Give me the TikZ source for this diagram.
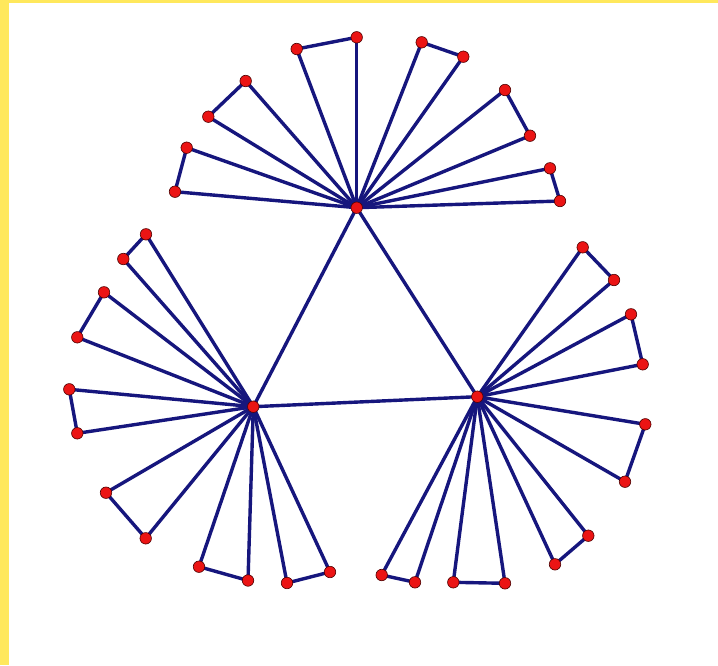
\documentclass[tikz,border=0pt]{standalone}
\definecolor{edgeblue}{RGB}{22,22,125}
\definecolor{nodered}{RGB}{235,20,20}
\definecolor{framey}{RGB}{255,232,92}
\begin{document}
\begin{tikzpicture}[x=1pt,y=-1pt,
  vtx/.style={circle,fill=nodered,draw=black!70!red,line width=0.6pt,inner sep=0pt,minimum size=11.5pt},
  edge/.style={draw=edgeblue,line width=3.4pt}]
\fill[white] (0,0) rectangle (718,665);
\useasboundingbox (0,0) rectangle (718,665);
\fill[framey] (0,0) rectangle (718,3);
\fill[framey] (0,0) rectangle (9,665);
% hubs
\coordinate (T) at (356.7,207.7);
\coordinate (L) at (253.3,406.7);
\coordinate (R) at (477.3,396.7);
% top leaves
\coordinate (t1) at (175,191.7);
\coordinate (t2) at (186.7,147.7);
\coordinate (t3) at (208.3,116.7);
\coordinate (t4) at (245.7,81);
\coordinate (t5) at (296.7,49);
\coordinate (t6) at (356.7,37.3);
\coordinate (t7) at (421.7,42.3);
\coordinate (t8) at (463.3,56.7);
\coordinate (t9) at (505,90);
\coordinate (t10) at (530,135.7);
\coordinate (t11) at (550,168.3);
\coordinate (t12) at (560,201);
% left leaves
\coordinate (l1) at (146,234.3);
\coordinate (l2) at (123.3,259);
\coordinate (l3) at (104,292.3);
\coordinate (l4) at (77.3,337.3);
\coordinate (l5) at (69.3,389.3);
\coordinate (l6) at (77.3,433.3);
\coordinate (l7) at (106,492.7);
\coordinate (l8) at (145.7,538.3);
\coordinate (l9) at (199,566.7);
\coordinate (l10) at (248,580.5);
\coordinate (l11) at (287,583);
\coordinate (l12) at (330,572);
% right leaves
\coordinate (r1) at (582.7,247.3);
\coordinate (r2) at (614,280);
\coordinate (r3) at (631,314.3);
\coordinate (r4) at (642.7,364.3);
\coordinate (r5) at (645.3,424.3);
\coordinate (r6) at (625,481.7);
\coordinate (r7) at (588.3,535.7);
\coordinate (r8) at (555,564.3);
\coordinate (r9) at (381.7,575);
\coordinate (r10) at (415,582.3);
\coordinate (r11) at (453.3,582.3);
\coordinate (r12) at (505,583.3);
% edges
\foreach \h/\p in {T/t,L/l,R/r}{
  \foreach \i in {1,...,12}{ \draw[edge] (\h) -- (\p\i); }
  \foreach \a/\b in {1/2,3/4,5/6,7/8,9/10,11/12}{ \draw[edge] (\p\a) -- (\p\b); }
}
\draw[edge] (T) -- (L) -- (R) -- (T);
% vertices
\foreach \n in {T,L,R}{ \node[vtx] at (\n) {}; }
\foreach \p in {t,l,r}{
  \foreach \i in {1,...,12}{ \node[vtx] at (\p\i) {}; }
}
\end{tikzpicture}
\end{document}
